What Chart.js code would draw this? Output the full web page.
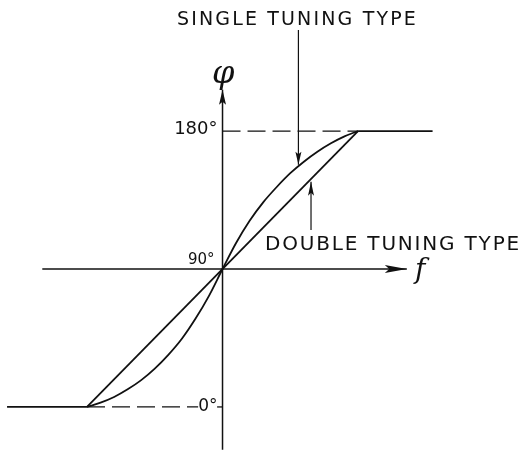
<!DOCTYPE html>
<html>
<head>
<meta charset="utf-8">
<script src="https://cdn.jsdelivr.net/npm/chart.js@4"></script>
<style>
body { margin: 0; background: #fff; }
canvas { display: block; }
</style>
</head>
<body>
<canvas id="phase-chart" width="525" height="452"></canvas>
<script>
// frequency offset (f), normalised so the kinks sit at -1 and +1
var singleFreq = [-1, -0.9, -0.8, -0.7, -0.6, -0.5, -0.4, -0.3, -0.2, -0.1, 0, 0.1, 0.2, 0.3, 0.4, 0.5, 0.6, 0.7, 0.8, 0.9, 1];
var singlePhase = [0, 2.8, 6.5, 11.5, 17.5, 25, 34, 44.5, 57.5, 72.5, 90, 107, 121.5, 133.5, 143.5, 152.5, 160, 166.5, 172, 176.5, 180];
var doubleFreq = [-1, 1];
var doublePhase = [0, 180];
var flatLeftFreq = [-1.59, -1];
var flatRightFreq = [1, 1.55];
var phaseTicks = [0, 90, 180];
var phaseTickLabels = ['0°', '90°', '180°'];

function pts(xs, ys) {
  return xs.map(function (x, i) { return { x: x, y: ys[i] }; });
}

var ink = '#111';

function line(data, extra) {
  var ds = {
    data: data,
    borderColor: ink,
    borderWidth: 1.8,
    pointRadius: 0,
    fill: false,
    tension: 0
  };
  for (var k in extra) ds[k] = extra[k];
  return ds;
}

// arrowheads and text, placed through the chart scales
var annotate = {
  id: 'annotate',
  afterDatasetsDraw: function (chart) {
    var ctx = chart.ctx;
    var xs = chart.scales.x, ys = chart.scales.y;

    chart.data.datasets.forEach(function (ds) {
      if (!ds.arrow) return;
      var n = ds.data.length;
      var a = ds.data[n - 2], b = ds.data[n - 1];
      var x1 = xs.getPixelForValue(a.x), y1 = ys.getPixelForValue(a.y);
      var x2 = xs.getPixelForValue(b.x), y2 = ys.getPixelForValue(b.y);
      var ang = Math.atan2(y2 - y1, x2 - x1);
      var len = ds.arrow.len, w = ds.arrow.w;
      ctx.save();
      ctx.translate(x2, y2);
      ctx.rotate(ang);
      ctx.beginPath();
      ctx.moveTo(0, 0);
      ctx.lineTo(-len, -w);
      ctx.lineTo(-len * 0.8, 0);
      ctx.lineTo(-len, w);
      ctx.closePath();
      ctx.fillStyle = ink;
      ctx.fill();
      ctx.restore();
    });

    function text(str, fx, fy, font, align, dx, fitWidth) {
      ctx.save();
      ctx.font = font;
      ctx.fillStyle = ink;
      ctx.textBaseline = 'middle';
      ctx.textAlign = align;
      if (fitWidth) {
        var w0 = ctx.measureText(str).width;
        ctx.letterSpacing = ((fitWidth - w0) / (str.length - 1)).toFixed(2) + 'px';
      }
      ctx.fillText(str, xs.getPixelForValue(fx) + (dx || 0), ys.getPixelForValue(fy));
      ctx.restore();
    }

    text(phaseTickLabels[2], 0, phaseTicks[2] + 1, "18px 'DejaVu Sans'", 'right', -5);
    text(phaseTickLabels[1], 0, phaseTicks[1] + 6, "15px 'DejaVu Sans'", 'right', -8);
    text(phaseTickLabels[0], 0, phaseTicks[0], "17px 'DejaVu Sans'", 'right', -5);

    text('SINGLE TUNING TYPE', 0.553, 252.4, "19px 'DejaVu Sans'", 'center', 0, 239);
    text('DOUBLE TUNING TYPE', 1.258, 105.6, "20px 'DejaVu Sans'", 'center', 0, 254);
    text('φ', 0.005, 217, "italic 32px 'DejaVu Serif'", 'center');
    text('f', 1.458, 89, "italic 28px 'DejaVu Serif'", 'center');
  }
};

var ctx = document.getElementById('phase-chart').getContext('2d');

var chart = new Chart(ctx, {
  type: 'line',
  data: {
    datasets: [
      // axes
      line([{ x: -1.33, y: 90 }, { x: 1.36, y: 90 }], { borderWidth: 1.5, arrow: { len: 22, w: 4 } }),
      line([{ x: 0, y: -28 }, { x: 0, y: 207 }], { borderWidth: 1.5, arrow: { len: 15, w: 3.5 } }),
      // dashed guides
      line([{ x: 0, y: phaseTicks[2] }, { x: 1, y: phaseTicks[2] }], { borderWidth: 1.3, borderDash: [18, 7] }),
      line([{ x: -1, y: phaseTicks[0] }, { x: -0.18, y: phaseTicks[0] }], { borderWidth: 1.3, borderDash: [18, 7] }),
      line([{ x: -0.04, y: phaseTicks[0] }, { x: 0, y: phaseTicks[0] }], { borderWidth: 1.3 }),
      // flat portions
      line(pts(flatLeftFreq, [0, 0])),
      line(pts(flatRightFreq, [180, 180])),
      // single tuning curve
      line(pts(singleFreq, singlePhase), { cubicInterpolationMode: 'monotone' }),
      // double tuning line
      line(pts(doubleFreq, doublePhase)),
      // pointers to the curves
      line([{ x: 0.56, y: 246 }, { x: 0.56, y: 158 }], { borderWidth: 1.2, arrow: { len: 13, w: 3 } }),
      line([{ x: 0.653, y: 115.4 }, { x: 0.653, y: 147 }], { borderWidth: 1.2, arrow: { len: 14, w: 3 } })
    ]
  },
  options: {
    responsive: false,
    animation: false,
    layout: { padding: 0 },
    plugins: {
      legend: { display: false },
      tooltip: { enabled: false }
    },
    scales: {
      x: { type: 'linear', min: -1.642, max: 2.232, display: false },
      y: { type: 'linear', min: -29.4, max: 265.5, display: false }
    }
  },
  plugins: [annotate]
});
</script>
</body>
</html>
